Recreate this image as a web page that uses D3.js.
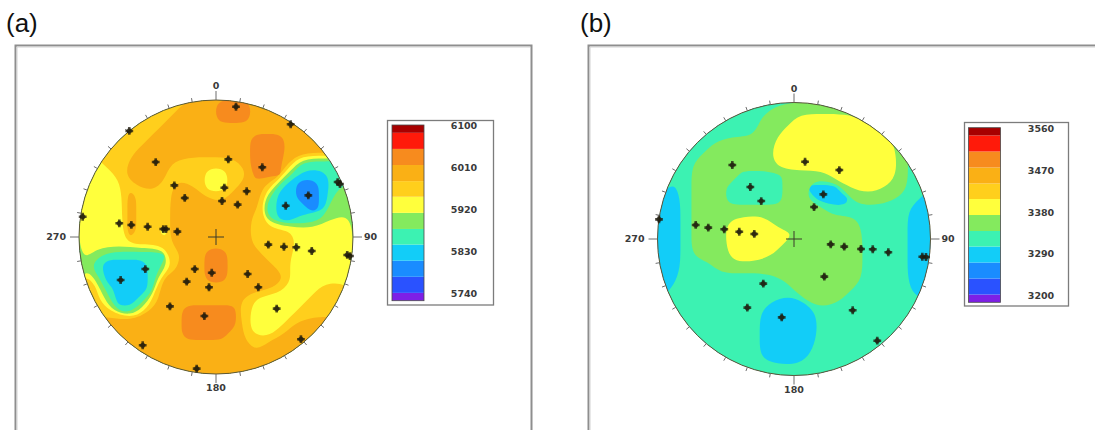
<!DOCTYPE html>
<html>
<head>
<meta charset="utf-8">
<script src="https://cdn.jsdelivr.net/npm/d3@7"></script>
<style>
  body { margin: 0; background: #fff; }
  svg { display: block; }
  .cap { font-family: "Liberation Sans", Arial, sans-serif; font-size: 26px; fill: #111; }
  .lab { font-family: "DejaVu Sans", sans-serif; font-weight: bold; font-size: 9.5px; fill: #3a3a3a; }
</style>
</head>
<body>
<svg id="chart" width="1095" height="430"></svg>
<script>
// Colour bands, lowest value first
const bandColors = ["#7d1fe6", "#2a52ff", "#1a8cff", "#12cdf8", "#3cf2b2", "#84ea5e",
                    "#ffff3c", "#ffcf1c", "#fab015", "#f78b1e", "#ff1a0a", "#a80000"];

// ---------- Panel (a) ----------
const levelsA = [5740, 5773, 5805, 5838, 5871, 5904, 5936, 5969, 6002, 6035, 6067, 6100];
const thresholdsA = [5756, 5789, 5822, 5855, 5887, 5920, 5953, 5985, 6018, 6051, 6084];
const legendTicksA = [6100, 6010, 5920, 5830, 5740];
// gridded field, 24 x 24 cells over the net (north row first), one band index per cell
const gridA = [
  "777777777888999888888888",
  "777777778888999888888888",
  "777777788888888888888888",
  "777777888888888999888888",
  "777778888888888999888888",
  "667788887777778999744444",
  "666788887776677999533344",
  "666678878876678874322345",
  "666687778887788853322355",
  "666687778888888843332355",
  "666687778888888753344566",
  "666687768888888777766666",
  "666677778888888777766666",
  "654444447889988877766666",
  "543333457889988887666666",
  "753333488889988888766666",
  "774333488888888887666777",
  "775334788888887666667777",
  "777446888999997666677777",
  "888888888999997666788888",
  "888888888999987667888888",
  "888888888888888788888888",
  "888888888888888888888888",
  "888888888888888888888888"
];
// sample stations, net coordinates [east, north]
const stationsA = [
  [0.146, 0.951], [0.545, 0.823], [-0.633, 0.774], [-0.440, 0.547], [0.090, 0.567],
  [0.338, 0.509], [0.888, 0.401], [0.905, 0.387], [-0.304, 0.377], [0.061, 0.360],
  [0.224, 0.334], [-0.228, 0.285], [0.044, 0.263], [0.158, 0.236], [0.674, 0.304],
  [0.509, 0.228], [-0.973, 0.148], [-0.706, 0.100], [-0.618, 0.088], [-0.499, 0.075],
  [-0.385, 0.058], [-0.365, 0.058], [-0.282, 0.039], [0.382, -0.056], [0.496, -0.071],
  [0.586, -0.075], [0.699, -0.102], [0.958, -0.131], [0.978, -0.139], [-0.516, -0.234],
  [-0.155, -0.234], [-0.031, -0.261], [0.231, -0.270], [-0.696, -0.314], [-0.214, -0.326],
  [-0.051, -0.367], [0.309, -0.367], [-0.336, -0.506], [0.443, -0.523], [-0.085, -0.577],
  [0.620, -0.746], [-0.535, -0.790], [-0.141, -0.961]
];

// ---------- Panel (b) ----------
const levelsB = [3200, 3233, 3265, 3298, 3331, 3364, 3396, 3429, 3462, 3495, 3527, 3560];
const thresholdsB = [3216, 3249, 3282, 3315, 3347, 3380, 3413, 3445, 3478, 3511, 3544];
const legendTicksB = [3560, 3470, 3380, 3290, 3200];
const gridB = [
  "444444444455555555554444",
  "444444444555666666555444",
  "444444444556666666665544",
  "444445555566666666666544",
  "444455555566666666666544",
  "444555555566666666666544",
  "444555544445555666666544",
  "434555444445533356665544",
  "334555444445543335555443",
  "334555555555555444444433",
  "334555666655555555444433",
  "334555666666555555444433",
  "334555666665555555444433",
  "334555666655555555444433",
  "334445555555555555444433",
  "334444444445555555444433",
  "344444444444555554444433",
  "444444444433355544444444",
  "444444444333334444444444",
  "444444444333334444444444",
  "444444444333334444444444",
  "444444444333334444444444",
  "444444444333344444444444",
  "444444444444444444444444"
];
const stationsB = [
  [-0.452, 0.542], [0.081, 0.566], [0.332, 0.505], [-0.320, 0.381], [0.215, 0.327],
  [-0.240, 0.278], [0.147, 0.234], [-0.989, 0.144], [-0.720, 0.103], [-0.628, 0.083],
  [-0.511, 0.071], [-0.401, 0.053], [-0.291, 0.037], [0.269, -0.039], [0.368, -0.056],
  [0.491, -0.073], [0.577, -0.075], [0.691, -0.097], [0.940, -0.130], [0.967, -0.132],
  [0.222, -0.276], [-0.225, -0.327], [-0.342, -0.503], [0.430, -0.522], [-0.090, -0.574],
  [0.610, -0.745]
];

const cardinals = [{deg: 0, text: "0"}, {deg: 90, text: "90"}, {deg: 180, text: "180"}, {deg: 270, text: "270"}];
const tickDegrees = d3.range(0, 360, 10);

const svg = d3.select("#chart");
const N = 24;

function framePanel(x0, y0, x1, y1) {
  svg.append("path")
    .attr("d", `M${x0},${y1} V${y0} H${x1} V${y1}`)
    .attr("fill", "none").attr("stroke", "#8e8e8e").attr("stroke-width", 2);
  svg.append("path")
    .attr("d", `M${x0 + 1.5},${y1} V${y0 + 1.5} H${x1 - 1.5}`)
    .attr("fill", "none").attr("stroke", "#d2d2d2").attr("stroke-width", 1);
}

// thin out long rings so the closed B-spline rounds their corners more softly
function thinRing(ring) {
  const pts = ring.slice(0, -1);
  return pts.length > 16 ? pts.filter((p, i) => i % 2 === 0) : pts;
}

function drawNet(cfg) {
  const {id, cx, cy, r, grid, levels, thresholds, stations, legend, legendTicks} = cfg;
  const g = svg.append("g");
  const x = d3.scaleLinear().domain([-1, 1]).range([cx - r, cx + r]);
  const y = d3.scaleLinear().domain([-1, 1]).range([cy + r, cy - r]);
  const gx = d3.scaleLinear().domain([0, N]).range([cx - r, cx + r]);
  const gy = d3.scaleLinear().domain([0, N]).range([cy - r, cy + r]);

  const values = grid.flatMap(row => Array.from(row, c => levels[parseInt(c, 16)]));
  const contours = d3.contours().size([N, N]).thresholds(thresholds)(values);

  g.append("clipPath").attr("id", "clip-" + id)
    .append("circle").attr("cx", x(0)).attr("cy", y(0)).attr("r", x(1) - x(0));

  const ringLine = d3.line().x(p => gx(p[0])).y(p => gy(p[1]))
    .curve(d3.curveBasisClosed);
  const pathOf = geom => geom.coordinates
    .map(poly => poly.map(ring => ringLine(thinRing(ring))).join(""))
    .join("");

  const field = g.append("g").attr("clip-path", `url(#clip-${id})`);
  field.append("circle").attr("cx", x(0)).attr("cy", y(0)).attr("r", x(1) - x(0))
    .attr("fill", bandColors[levels.indexOf(d3.min(values))]);
  field.selectAll("path").data(contours).join("path")
    .attr("d", pathOf)
    .attr("fill", (d, i) => bandColors[i + 1]);

  // rim and tick marks
  g.append("circle").attr("cx", x(0)).attr("cy", y(0)).attr("r", x(1) - x(0))
    .attr("fill", "none").attr("stroke", "#5f5734").attr("stroke-width", 1);
  const rad = d => d * Math.PI / 180;
  g.selectAll("line.tick").data(tickDegrees).join("line")
    .attr("class", "tick")
    .attr("x1", d => x(Math.sin(rad(d))))
    .attr("y1", d => y(Math.cos(rad(d))))
    .attr("x2", d => x(Math.sin(rad(d)) * (1 + (d % 90 === 0 ? 9 : 4) / r)))
    .attr("y2", d => y(Math.cos(rad(d)) * (1 + (d % 90 === 0 ? 9 : 4) / r)))
    .attr("stroke", "#6d6d6d").attr("stroke-width", 1);

  g.selectAll("text.card").data(cardinals).join("text")
    .attr("class", "lab card")
    .attr("x", d => x(Math.sin(rad(d.deg)) * (1 + 13 / r)) + (d.deg === 90 ? -2 : 0))
    .attr("y", d => y(Math.cos(rad(d.deg)) * (1 + 14 / r)))
    .attr("dy", "0.36em")
    .attr("text-anchor", d => d.deg === 90 ? "start" : d.deg === 270 ? "end" : "middle")
    .text(d => d.text);

  // centre cross
  g.append("path")
    .attr("d", `M${x(0) - 8},${y(0)} H${x(0) + 8} M${x(0)},${y(0) - 8} V${y(0) + 8}`)
    .attr("stroke", "#3b3b2b").attr("stroke-width", 1);

  // stations
  const sym = d3.symbol().type(d3.symbolCross).size(34);
  g.selectAll("g.st").data(stations).join("g")
    .attr("class", "st")
    .attr("transform", d => `translate(${x(d[0])},${y(d[1])})`)
    .call(s => {
      s.append("circle").attr("r", 2.6).attr("fill", "#1d1a0c").attr("fill-opacity", 0.7);
      s.append("path").attr("d", sym).attr("fill", "#1d1a0c").attr("fill-opacity", 0.75);
    });

  // legend
  const L = legend;
  g.append("rect").attr("x", L.x0).attr("y", L.y0)
    .attr("width", L.x1 - L.x0).attr("height", L.y1 - L.y0)
    .attr("fill", "#fff").attr("stroke", "#7c7c7c").attr("stroke-width", 1.3);
  const vmin = levels[0], vmax = levels[levels.length - 1];
  const barY = d3.scaleLinear().domain([vmin, vmax]).range([L.b1, L.b0]);
  const edges = [vmin, ...thresholds, vmax];
  g.selectAll("rect.band").data(bandColors).join("rect")
    .attr("class", "band")
    .attr("x", L.bx0).attr("width", L.bx1 - L.bx0)
    .attr("y", (d, i) => barY(edges[i + 1]))
    .attr("height", (d, i) => barY(edges[i]) - barY(edges[i + 1]))
    .attr("fill", d => d);
  g.append("rect").attr("x", L.bx0).attr("y", L.b0)
    .attr("width", L.bx1 - L.bx0).attr("height", L.b1 - L.b0)
    .attr("fill", "none").attr("stroke", "#4a4a4a").attr("stroke-width", 0.8);
  const labY = d3.scaleLinear().domain([vmin, vmax]).range([L.l1, L.l0]);
  g.selectAll("text.lt").data(legendTicks).join("text")
    .attr("class", "lab lt")
    .attr("x", L.lx).attr("y", d => labY(d)).attr("dy", "0.36em")
    .attr("text-anchor", "middle")
    .text(d => d);
}

framePanel(15.5, 45.5, 531.5, 445);
framePanel(588.5, 45.5, 1110, 445);

svg.append("text").attr("class", "cap").attr("x", 6).attr("y", 32).text("(a)");
svg.append("text").attr("class", "cap").attr("x", 580).attr("y", 32).text("(b)");

drawNet({
  id: "a", cx: 216, cy: 237, r: 137,
  grid: gridA, levels: levelsA, thresholds: thresholdsA, stations: stationsA,
  legendTicks: legendTicksA,
  legend: {x0: 387.5, y0: 120.5, x1: 493.5, y1: 305, bx0: 392, bx1: 424, b0: 125, b1: 300.7,
           lx: 464, l0: 126, l1: 293.5}
});
drawNet({
  id: "b", cx: 794, cy: 239, r: 136.5,
  grid: gridB, levels: levelsB, thresholds: thresholdsB, stations: stationsB,
  legendTicks: legendTicksB,
  legend: {x0: 964.5, y0: 122.5, x1: 1068.5, y1: 306, bx0: 968.5, bx1: 1000.5, b0: 127.7, b1: 302.3,
           lx: 1041, l0: 128.5, l1: 295.7}
});
</script>
</body>
</html>
